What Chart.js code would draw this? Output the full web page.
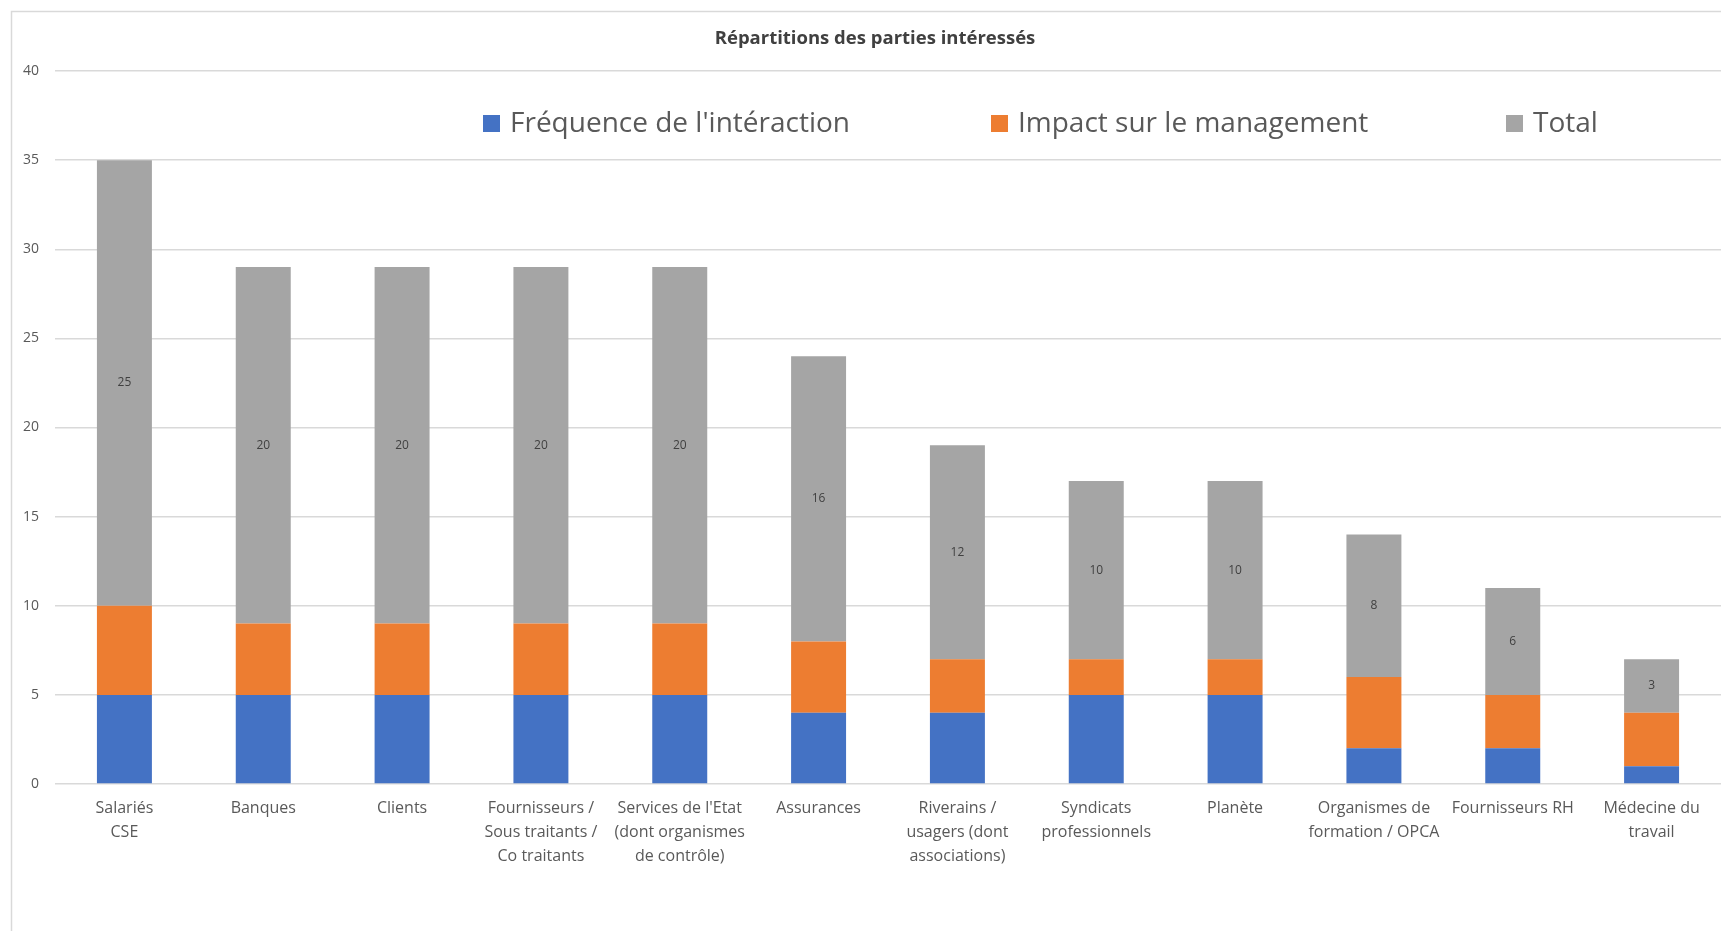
<!DOCTYPE html>
<html>
<head>
<meta charset="utf-8">
<script src="https://cdn.jsdelivr.net/npm/chart.js@4.4.1/dist/chart.umd.min.js"></script>
<style>
  html, body { margin: 0; padding: 0; background: #fff; }
  #wrap { width: 1721px; height: 931px; position: relative; }
</style>
</head>
<body>
<div id="wrap"><canvas id="chart" width="1721" height="931"></canvas></div>
<script>
// Data
const categories = [
    ['Salariés', 'CSE'],
    'Banques',
    'Clients',
    ['Fournisseurs /', 'Sous traitants /', 'Co traitants'],
    ["Services de l'Etat", '(dont organismes', 'de contrôle)'],
    'Assurances',
    ['Riverains /', 'usagers (dont', 'associations)'],
    ['Syndicats', 'professionnels'],
    'Planète',
    ['Organismes de', 'formation / OPCA'],
    'Fournisseurs RH',
    ['Médecine du', 'travail']
];
const frequence = [5, 5, 5, 5, 5, 4, 4, 5, 5, 2, 2, 1];
const impact    = [5, 4, 4, 4, 4, 4, 3, 2, 2, 4, 3, 3];
const total     = [25, 20, 20, 20, 20, 16, 12, 10, 10, 8, 6, 3];
const yTicks    = [0, 5, 10, 15, 20, 25, 30, 35, 40];
const chartTitle = 'Répartitions des parties intéressés';

const FONT = "'Open Sans', sans-serif";
const TEXT = '#595959';

// Frame + title (title sits a bit right of the canvas centre, over the plot)
const framePlugin = {
    id: 'frame',
    beforeDraw(chart) {
        const ctx = chart.ctx;
        ctx.save();
        ctx.fillStyle = '#fff';
        ctx.fillRect(0, 0, chart.width, chart.height);
        ctx.strokeStyle = '#d9d9d9';
        ctx.lineWidth = 1.5;
        ctx.strokeRect(11.5, 11.5, chart.width + 10, chart.height + 10);
        ctx.font = 'bold 18.5px ' + FONT;
        ctx.fillStyle = '#404040';
        ctx.textAlign = 'center';
        ctx.textBaseline = 'middle';
        ctx.fillText(chartTitle, 875, 39);
        ctx.restore();
    }
};

// Labels inside the Total segments
const segLabels = {
    id: 'segLabels',
    afterDatasetsDraw(chart) {
        const ctx = chart.ctx;
        const meta = chart.getDatasetMeta(2);
        ctx.save();
        ctx.font = '12px ' + FONT;
        ctx.fillStyle = '#404040';
        ctx.textAlign = 'center';
        ctx.textBaseline = 'middle';
        meta.data.forEach((bar, i) => {
            const p = bar.getProps(['x', 'y', 'base'], true);
            ctx.fillText(total[i], p.x, (p.y + p.base) / 2);
        });
        ctx.restore();
    }
};

// Legend drawn inside the plot area, like the original
const innerLegend = {
    id: 'innerLegend',
    afterDraw(chart) {
        const ctx = chart.ctx;
        const xs = [483, 991, 1506];
        const y = 123;
        ctx.save();
        ctx.font = '28px ' + FONT;
        ctx.textBaseline = 'middle';
        chart.data.datasets.forEach((ds, i) => {
            ctx.fillStyle = ds.backgroundColor;
            ctx.fillRect(xs[i], y - 8, 17, 17);
            ctx.fillStyle = TEXT;
            ctx.fillText(ds.label, xs[i] + 27, y + 1);
        });
        ctx.restore();
    }
};

new Chart(document.getElementById('chart'), {
    type: 'bar',
    data: {
        labels: categories,
        datasets: [
            { label: "Fréquence de l'intéraction", data: frequence, backgroundColor: '#4472C4' },
            { label: 'Impact sur le management', data: impact, backgroundColor: '#ED7D31' },
            { label: 'Total', data: total, backgroundColor: '#A5A5A5' }
        ]
    },
    options: {
        responsive: false,
        animation: false,
        layout: { padding: { left: 0, right: 0, top: 71, bottom: 0 } },
        datasets: { bar: { barPercentage: 0.396, categoryPercentage: 1 } },
        plugins: {
            legend: { display: false },
            tooltip: { enabled: false },
            title: { display: false }
        },
        scales: {
            x: {
                stacked: true,
                grid: { display: false, drawTicks: false },
                border: { display: false },
                ticks: {
                    color: TEXT,
                    font: { family: FONT, size: 16, lineHeight: 1.48 },
                    autoSkip: false,
                    maxRotation: 0,
                    padding: 13
                },
                afterFit(scale) { scale.height = 147; }
            },
            y: {
                stacked: true,
                min: 0,
                max: 40,
                afterBuildTicks(scale) { scale.ticks = yTicks.map(v => ({ value: v })); },
                grid: { color: '#d9d9d9', lineWidth: 1.5, drawTicks: false },
                border: { display: false },
                ticks: {
                    color: TEXT,
                    font: { family: FONT, size: 14 },
                    padding: 16
                },
                afterFit(scale) { scale.width = 55; }
            }
        }
    },
    plugins: [framePlugin, segLabels, innerLegend]
});
</script>
</body>
</html>
